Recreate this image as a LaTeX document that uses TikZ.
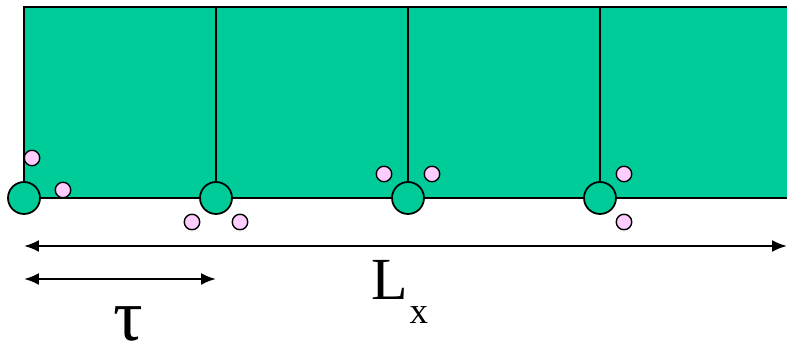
\documentclass[tikz,border=0pt]{standalone}
\usepackage{fontspec}
\setmainfont{Liberation Serif}
\usetikzlibrary{positioning,arrows.meta}
\definecolor{cellGreen}{HTML}{00CC99}
\definecolor{dotPink}{HTML}{FFCCFF}

\begin{document}
\begin{tikzpicture}[
  x=0.02cm, y=-0.02cm,
  wall/.style={draw=black, line width=1pt},
  site/.style={
    circle, draw=black, line width=1pt,
    fill=cellGreen,
    minimum size=0.64cm, inner sep=0pt
  },
  dot/.style={
    circle, draw=black, line width=0.8pt,
    fill=dotPink,
    minimum size=0.31cm, inner sep=0pt
  },
  spanArrow/.style={
    {Latex[length=3mm,width=2.4mm]}-{Latex[length=3mm,width=2.4mm]},
    line width=1.3pt
  },
  dimText/.style={font=\fontsize{34}{40}\selectfont, inner sep=0pt}
]

% Keep the 787 x 350 frame
\useasboundingbox (0,0) rectangle (787,350);

% Corners and wall feet
\coordinate (topLeft) at (24,7);
\coordinate (topRight) at (787,7);
\coordinate (botRight) at (787,198);
\coordinate (b0) at (24,198);
\coordinate (b1) at (216,198);
\coordinate (b2) at (408,198);
\coordinate (b3) at (600,198);
\coordinate (t1) at (216,7);
\coordinate (t2) at (408,7);
\coordinate (t3) at (600,7);

% Green strip, open on the right
\fill[cellGreen] (topLeft) rectangle (botRight);
\draw[wall] (topRight) -- (topLeft) -- (b0) -- (botRight);

% Walls between cells
\foreach \i in {1,2,3}
  \draw[wall] (t\i) -- (b\i);

% Sites at the wall feet
\foreach \i in {0,1,2,3}
  \node[site] (s\i) at (b\i) {};

% Pink dots
\node[dot] (p1) at (32,158) {};
\node[dot] (p2) at (63,190) {};
\node[dot] (p3) at (192,222) {};
\node[dot] (p4) at (240,222) {};
\node[dot] (p5) at (384,174) {};
\node[dot] (p6) at (432,174) {};
\node[dot] (p7) at (624,174) {};
\node[dot] (p8) at (624,222) {};

% Dimension arrows
\coordinate (lxStart) at (24,246);
\coordinate (lxEnd) at (787,246);
\coordinate (tauStart) at (24,279);
\coordinate (tauEnd) at (216,279);
\draw[spanArrow] (lxStart) -- (lxEnd);
\draw[spanArrow] (tauStart) -- (tauEnd);

% Labels
\node[dimText, anchor=base west] (lxLabel) at (371,300)
  {L\hspace{1pt}\raisebox{-0.48cm}{\fontsize{21}{25}\selectfont x}};
\node[dimText, anchor=base, text depth=0pt] (tauLabel) at (128,341)
  {\fontsize{42}{48}\selectfont τ};

\end{tikzpicture}
\end{document}
